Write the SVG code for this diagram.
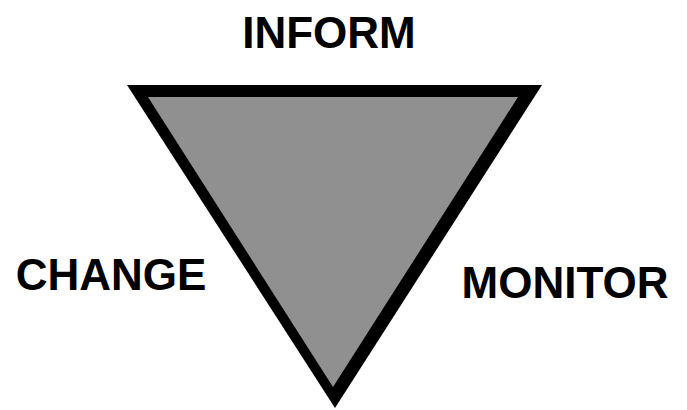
<svg xmlns="http://www.w3.org/2000/svg" width="687" height="410" viewBox="0 0 687 410">
<style>
.lbl{font-family:"Liberation Sans",Arial,sans-serif;font-weight:bold;font-size:44px;fill:#000}
</style>
<rect width="687" height="410" fill="#fff"/>
<g id="triangle">
<polygon points="127,85 542,85 335,408" fill="#000"/>
<polygon points="148,97 518,97 333,387" fill="#909090"/>
</g>
<g id="inform"><text class="lbl" x="329" y="48" text-anchor="middle">INFORM</text></g>
<g id="change"><text class="lbl" x="111" y="290" text-anchor="middle">CHANGE</text></g>
<g id="monitor"><text class="lbl" x="565" y="298" text-anchor="middle">MONITOR</text></g>
<g id="connectors"></g>
</svg>
